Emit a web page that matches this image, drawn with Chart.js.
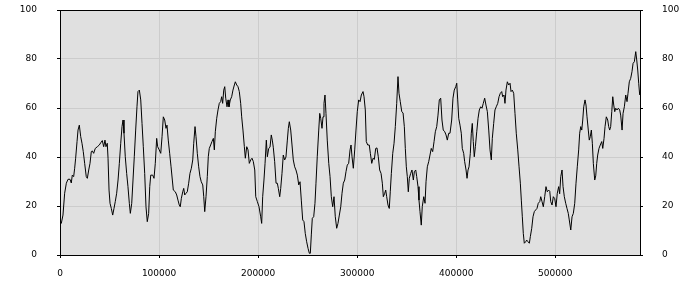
<!DOCTYPE html>
<html>
<head>
<meta charset="utf-8">
<script src="https://cdn.jsdelivr.net/npm/chart.js@4/dist/chart.umd.min.js"></script>
<style>
  html, body { margin: 0; padding: 0; background: #fff; }
  #wrap { width: 700px; height: 300px; }
</style>
</head>
<body>
<div id="wrap"><canvas id="chart"></canvas></div>
<script>
// x positions of the samples
const positions = [
  0, 1300, 3000, 4700, 6400, 8100, 10100, 11400, 12400, 13800, 14800, 15800, 17200, 18200, 19500,
  20900, 22200, 23500, 24900, 26500, 27600, 29000, 30300, 31600, 32600, 34000, 35600, 37700, 39700,
  41100, 42700, 44100, 45400, 46400, 47700, 48500, 49500, 50500, 51800, 53200, 54500, 55800, 57200,
  58600, 59900, 61300, 62600, 63600, 64600, 65900, 67300, 68600, 70000, 71000, 72400, 73700, 75000,
  76400, 77700, 78700, 80100, 81500, 82800, 84100, 85500, 86800, 88100, 89500, 90600, 91600, 93600,
  94900, 96200, 97600, 98600, 100200, 101700, 103000, 104300, 105700, 107000, 108000, 109300, 110700,
  112100, 113400, 114400, 116400, 117800, 119100, 120400, 121400, 122500, 123900, 124900, 125900,
  127200, 128500, 129900, 131200, 132600, 134000, 135000, 136300, 137300, 138600, 140000, 141300,
  142600, 144100, 145100, 146100, 147400, 148700, 149700, 150700, 152100, 153400, 154800, 155800,
  156800, 158200, 159500, 160800, 162200, 163200, 164200, 165300, 166300, 167300, 168600, 169600,
  170600, 171900, 173300, 174600, 176000, 177000, 178400, 179700, 181000, 182400, 183400, 184700,
  186100, 187100, 188500, 189800, 191100, 192500, 193800, 195100, 196600, 197600, 199200, 200900,
  202600, 203600, 204600, 205900, 207000, 208300, 209300, 210700, 212000, 213300, 214300, 215300,
  216700, 218100, 219400, 220400, 221800, 222800, 224100, 225400, 226800, 228100, 229500, 230500,
  231500, 232900, 234200, 235500, 236900, 238200, 239600, 241000, 242300, 243600, 245000, 246300,
  247600, 249000, 250400, 251700, 252700, 253700, 254700, 256100, 257400, 258400, 259700, 261200,
  262200, 263200, 264500, 265500, 266500, 267500, 268500, 269800, 271300, 272600, 273900, 275300,
  276600, 277900, 279300, 280600, 282000, 283400, 284700, 286000, 287400, 288700, 290000, 291400,
  292800, 293800, 294800, 296100, 297500, 298800, 300100, 301500, 302900, 304200, 305900, 306900,
  308200, 309200, 310600, 312200, 313300, 314700, 316000, 317300, 318700, 320000, 321300, 322700,
  324100, 325400, 326400, 327800, 328800, 329800, 331100, 332400, 333400, 334500, 335900, 337200,
  338500, 339900, 341200, 342200, 343500, 345000, 346300, 347600, 348600, 349600, 350600, 351600,
  352600, 354000, 355300, 356700, 357700, 359100, 360100, 361400, 362400, 363400, 364700, 365700,
  367200, 368500, 369500, 370800, 372200, 373500, 374800, 376200, 377600, 378900, 380300, 381600,
  382900, 384300, 385600, 386900, 388400, 389700, 391000, 392400, 393700, 395400, 396700, 398000,
  399500, 400500, 401500, 402500, 403800, 405100, 406100, 407500, 408500, 409900, 410900, 411900,
  412900, 414200, 415200, 416200, 417200, 418200, 419300, 420700, 422000, 423300, 424700, 426000,
  427300, 428700, 430000, 431400, 432800, 434100, 435400, 436400, 437800, 439100, 440400, 441900,
  443200, 444500, 445900, 446900, 448200, 449200, 450200, 451600, 453000, 454300, 455300, 456600,
  458000, 459300, 460600, 462100, 463400, 464700, 465700, 466700, 467700, 468700, 470100, 471100,
  472500, 473800, 474800, 476200, 477500, 478800, 480200, 481500, 482800, 484300, 485300, 486600,
  487900, 489300, 490600, 491900, 493300, 494400, 495400, 496700, 498000, 499400, 500700, 502000,
  503400, 504400, 505500, 506800, 507800, 509100, 510500, 511800, 513100, 514100, 515600, 516900,
  518200, 519600, 520900, 522200, 523600, 524600, 525700, 526700, 527700, 528700, 530000, 531000,
  532000, 533300, 534300, 535300, 536400, 537400, 538400, 539800, 540800, 541800, 542800, 544100,
  545400, 546900, 547900, 549200, 550200, 551500, 552900, 553900, 554900, 555900, 557000, 558000,
  559000, 560000, 561000, 562300, 563600, 565000, 566000, 567400, 568400, 569700, 571100, 572400,
  573400, 574700, 576100, 577400, 578500, 579800, 581200, 582200, 583200, 584200, 585200
];

// sample values (0..100)
const values = [
  12.9, 12.9, 16.3, 25.2, 29.3, 30.9, 30.9, 29.4, 32.6, 32, 35.4, 39.5, 46.3, 51, 53,
  48.3, 45.6, 42.2, 37.4, 32, 31.3, 34.7, 37.4, 42.2, 42.5, 41.5, 43.5, 44.2, 44.9,
  45.8, 46.7, 44.2, 46.9, 44.2, 45.6, 39.5, 26.5, 21.1, 19, 16.3, 19, 21.8, 25.2,
  30.6, 37.4, 45.6, 52.4, 55.1, 49.7, 40.1, 33.3, 27.9, 21.1, 17, 21.1, 30.6, 40.1,
  51, 60.5, 66.7, 67.3, 63.3, 53.7, 44.2, 33.3, 19.7, 13.6, 17, 27.9, 32.6, 32.6,
  31.3, 37.4, 47.6, 44.2, 42.9, 41.5, 48.3, 56.4, 55.1, 51.7, 53, 46.9, 41.5,
  36, 30.6, 26.5, 25.8, 24.5, 22.4, 20.4, 19.7, 23.1, 25.8, 27.2, 24.5,
  25.2, 25.8, 29.3, 33.3, 35.4, 38.8, 45.6, 52.4, 48.3, 41.5, 36, 32,
  29.9, 28.6, 23.8, 17.7, 23.8, 32, 40.1, 43.5, 44.9, 46.3, 47.6, 42.9,
  50.3, 55.8, 59.2, 61.9, 62.6, 64.6, 61.9, 67.3, 68.7, 64, 60.5, 63.3,
  60.5, 63.3, 64.6, 67.3, 69.4, 70.7, 69.4, 68.7, 66.7, 61.9, 56.4, 51,
  44.2, 39.5, 44.2, 42.9, 37.4, 38.8, 39.5, 38.2, 34.7, 23.8, 21.8, 19.7,
  15.6, 12.9, 23.8, 30.6, 37.4, 46.9, 40.1, 43.5, 44, 49, 46.9, 44,
  38.1, 29.3, 29.3, 27.2, 23.8, 27.2, 33.3, 40.8, 38.8, 40, 46.9, 51.7,
  54.4, 51, 44.9, 38.8, 36, 34.7, 32.6, 28.6, 29.9, 22.4, 14.3, 13.6,
  8.8, 5.4, 2.7, 0.7, 0.7, 8.2, 15, 15.6, 21.1, 29.3, 40.1, 51,
  57.8, 55.8, 51.7, 56.4, 61.9, 65.3, 57.8, 46.9, 37.4, 32, 23.8, 19.7,
  23.8, 15.6, 10.9, 12.9, 16.3, 19.7, 25.2, 29.3, 30.6, 34, 36.7, 37.4,
  42.9, 44.9, 40.1, 35.4, 42.9, 51, 58.5, 63.3, 62.6, 65.3, 66.7, 64.6,
  59.2, 46.3, 44.9, 44.9, 41.5, 37.4, 39.5, 39, 43.5, 43.7, 40.1, 34.7,
  33.3, 29.3, 23.8, 25.2, 26.5, 23.8, 20.4, 19, 25.8, 33.3, 41.5, 45.6,
  52.4, 61.9, 72.8, 66, 62.6, 58.5, 58, 52.4, 43.5, 36, 32, 25.8,
  31.3, 33.3, 34.7, 30.6, 34, 34.7, 32, 27.9, 22.4, 17.7, 12.2, 19.7,
  23.8, 21.1, 29.9, 36, 38.1, 40.8, 43.5, 42.2, 46.3, 50.3, 52.4, 57.1,
  63.3, 64, 55.1, 51, 50.3, 49, 46.9, 49.7, 49.7, 55.1, 64, 67.3,
  68.7, 70.1, 63.3, 55.8, 53, 49.7, 43.5, 41.5, 38.1, 34.7, 31.3, 34.7,
  36, 41.5, 49.7, 53.7, 46.3, 40.1, 44.2, 50.3, 55.8, 59.2, 60.5, 59.9,
  61.9, 64, 61.2, 58.5, 51, 42.9, 38.8, 47.6, 53.7, 59.2, 60.5, 61.9,
  64.6, 66, 66.7, 64.6, 65.3, 61.9, 67.3, 70.7, 69.4, 70.1, 66.7, 67.3,
  66, 57.8, 49.7, 42.9, 36, 29.3, 22.4, 15.6, 8.8, 4.8, 5.4, 6.1,
  5.4, 4.8, 7.5, 10.9, 15.6, 17.7, 18.4, 19, 21.1, 21.8, 23.8, 21.8,
  19.7, 23.8, 27.9, 25.8, 26.5, 26, 21.8, 20.4, 23.8, 23, 19.7, 25.2,
  27.9, 25, 32, 34.7, 28, 23.8, 21.1, 19, 17, 14.3, 10.2, 15.6,
  17, 21.1, 29.3, 36, 42.9, 49.7, 52.4, 51, 55.1, 60.5, 63.3, 61.2,
  56.4, 51, 46.9, 48.3, 51, 45.6, 37.4, 30.6, 32.3, 37.4, 40.8, 43.5,
  44.9, 46.3, 43.5, 47.6, 52.4, 56.4, 55.1, 52.4, 51, 52.4, 58.5, 64.6,
  61.2, 58.5, 59.9, 59.2, 59.9, 59.2, 57.1, 51, 57.8, 60.5, 65.3, 62.6,
  66, 70.7, 72.1, 74.8, 78.2, 78.9, 83, 79.6, 75.5, 70.1, 65.3
];

const xTicks = [0, 100000, 200000, 300000, 400000, 500000];
const yTicks = [0, 20, 40, 60, 80, 100];
const xMax = 585500;

const tickFont = { family: "DejaVu Sans", size: 9 };

// grey plot background and black frame
const frame = {
  id: "frame",
  beforeDraw(chart) {
    const a = chart.chartArea, ctx = chart.ctx;
    ctx.save();
    ctx.fillStyle = "#e0e0e0";
    ctx.fillRect(a.left, a.top, a.right - a.left, a.bottom - a.top);
    ctx.restore();
  },
  afterDraw(chart) {
    const a = chart.chartArea, ctx = chart.ctx;
    ctx.save();
    ctx.strokeStyle = "#000";
    ctx.lineWidth = 1;
    ctx.strokeRect(a.left + 0.5, a.top + 0.5, a.right - a.left, a.bottom - a.top);
    ctx.restore();
  }
};

const setTicks = list => scale => { scale.ticks = list.map(v => ({ value: v })); };
// vertical axes: fixed width, no extra room above/below for labels
const fitY = s => { s.width = 60; s.paddingTop = 0; s.paddingBottom = 0; };

new Chart("chart", {
  type: "line",
  data: {
    datasets: [{
      data: positions.map((x, i) => ({ x: x, y: values[i] })),
      borderColor: "#000",
      borderWidth: 1,
      pointRadius: 0,
      tension: 0,
      fill: false,
      yAxisID: "y"
    }]
  },
  options: {
    responsive: true,
    maintainAspectRatio: false,
    animation: false,
    layout: { padding: { top: 10, left: 0, right: 0, bottom: 0 } },
    plugins: { legend: { display: false }, tooltip: { enabled: false } },
    scales: {
      x: {
        type: "linear",
        min: 0,
        max: xMax,
        afterBuildTicks: setTicks(xTicks),
        afterFit: s => { s.height = 45; s.paddingLeft = 0; s.paddingRight = 0; },
        grid: { color: "#cccccc", tickColor: "#000", tickLength: 3 },
        border: { display: false },
        ticks: { font: tickFont, color: "#000", padding: 10, maxRotation: 0, callback: v => String(v) }
      },
      y: {
        position: "left",
        min: 0,
        max: 100,
        afterBuildTicks: setTicks(yTicks),
        afterFit: fitY,
        grid: { color: "#cccccc", tickColor: "#000", tickLength: 3 },
        border: { display: false },
        ticks: { font: tickFont, color: "#000", padding: 20 }
      },
      y2: {
        position: "right",
        min: 0,
        max: 100,
        afterBuildTicks: setTicks(yTicks),
        afterFit: fitY,
        grid: { drawOnChartArea: false, tickColor: "#000", tickLength: 3 },
        border: { display: false },
        ticks: { font: tickFont, color: "#000", padding: 19 }
      }
    }
  },
  plugins: [frame]
});
</script>
</body>
</html>
